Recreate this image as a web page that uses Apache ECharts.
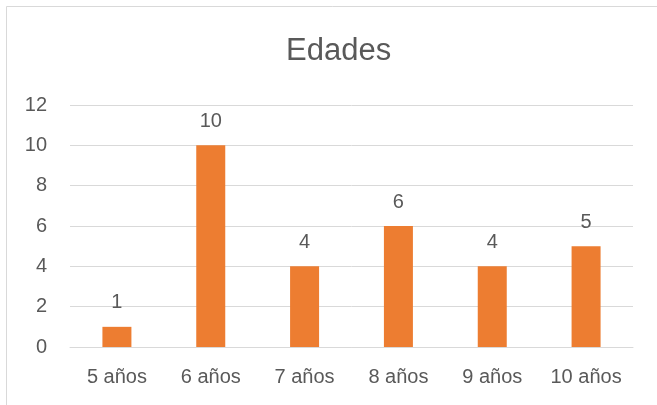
<!DOCTYPE html>
<html lang="es">
<head>
    <meta charset="UTF-8">
    <title>Edades</title>
    <script src="https://cdn.jsdelivr.net/npm/echarts@6/dist/echarts.min.js"></script>
    <style>
        html, body { margin: 0; padding: 0; background: #fff; }
        #main { width: 657px; height: 405px; }
    </style>
</head>
<body>
<div id="main"></div>
<script>
    // datos
    var categorias = ['5 años', '6 años', '7 años', '8 años', '9 años', '10 años'];
    var valores = [1, 10, 4, 6, 4, 5];

    var textColor = '#595959';
    var fontFam = 'Liberation Sans, Arial, sans-serif';

    var chart = echarts.init(document.getElementById('main'));

    var option = {
        animation: false,
        backgroundColor: '#fff',
        title: {
            text: 'Edades',
            left: 281,
            top: 31,
            textStyle: {
                color: textColor,
                fontSize: 31,
                fontWeight: 'normal',
                fontFamily: fontFam
            }
        },
        graphic: [{
            type: 'rect',
            shape: { x: 6.5, y: 6.5, width: 700, height: 500 },
            style: { fill: 'none', stroke: '#d9d9d9', lineWidth: 1 },
            silent: true
        }],
        grid: { left: 70, right: 24, top: 105, bottom: 58 },
        xAxis: {
            type: 'category',
            data: categorias,
            axisLine: { lineStyle: { color: '#d9d9d9' } },
            axisTick: { show: false },
            axisLabel: {
                color: textColor,
                fontSize: 20,
                fontFamily: fontFam,
                margin: 20
            }
        },
        yAxis: {
            type: 'value',
            min: 0,
            max: 12,
            interval: 2,
            axisLine: { show: false },
            axisTick: { show: false },
            splitLine: { lineStyle: { color: '#d9d9d9' } },
            axisLabel: {
                color: textColor,
                fontSize: 20,
                fontFamily: fontFam,
                margin: 23
            }
        },
        series: [{
            type: 'bar',
            data: valores,
            barWidth: 29,
            itemStyle: { color: '#ED7D31' },
            label: {
                show: true,
                position: 'top',
                distance: 14,
                color: textColor,
                fontSize: 20,
                fontFamily: fontFam
            }
        }]
    };

    chart.setOption(option);
</script>
</body>
</html>
